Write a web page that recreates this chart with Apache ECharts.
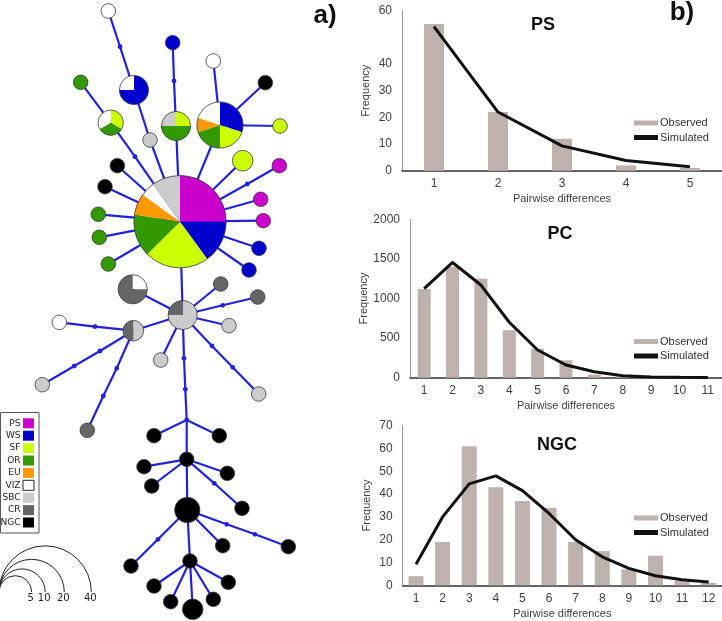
<!DOCTYPE html>
<html>
<head>
<meta charset="utf-8">
<title>Haplotype network and mismatch distributions</title>
<script src="https://cdn.jsdelivr.net/npm/echarts@6/dist/echarts.min.js"></script>
<style>
    html, body { margin: 0; padding: 0; background: #fff; }
    #chart { width: 722px; height: 621px; }
</style>
</head>
<body>
<div id="chart"></div>
<script>
// populations, in legend order (pies are drawn clockwise from 12 o'clock in this order)
var pops = ['PS', 'WS', 'SF', 'OR', 'EU', 'VIZ', 'SBC', 'CR', 'NGC'];
var popColors = ['#cc00cc', '#0000cc', '#ccff00', '#339900', '#ff9900', '#ffffff', '#cccccc', '#666666', '#000000'];

// haplotype network, vertex layout in network space (x right, y down)
var netLayout = [
    [180, 221.7], [108.3, 11], [120, 46.7], [134, 90], [150, 140],
    [172.7, 42.7], [174, 81], [176, 126], [80.7, 82.3], [110.7, 122.7],
    [135, 156.7], [213.3, 61], [220, 125], [265.3, 82.7], [280, 126],
    [117.3, 165.7], [105, 186.7], [98.3, 214.3], [99.3, 237.3], [108.3, 264],
    [242.7, 160.7], [279.3, 165.7], [247.3, 184], [260.7, 199.3], [263.3, 220.7],
    [259, 248.3], [249, 270], [182.7, 315], [132.7, 289.3], [220.7, 284],
    [257.7, 297], [222.7, 305.3], [229, 325.7], [160.7, 360], [212, 346],
    [232.7, 367.3], [258.7, 394], [133.3, 330.7], [95, 326.7], [59.3, 322.3],
    [100, 351], [74.3, 366], [42.3, 384.7], [116.7, 368.3], [103.3, 396],
    [87.3, 430.3], [184, 358.3], [185.3, 389.3], [186.7, 420], [154, 435.7],
    [219.3, 435.7], [186.7, 459.3], [144, 466.7], [151.7, 486], [227.3, 473.3],
    [214.3, 483.3], [242, 508.3], [187.3, 510], [158, 539.3], [131, 566],
    [222.7, 545.7], [226.7, 524.3], [255, 534.3], [288.3, 546.7], [190, 561],
    [154, 586], [170.7, 601.7], [192.7, 609.3], [213.3, 599.3], [228.3, 582.3]
];

// haplotype composition per vertex (null = mutation step / median vector)
var netComp = [
    {PS: 10, WS: 6, SF: 9, OR: 6, EU: 3, VIZ: 2, SBC: 4}, {VIZ: 1}, null, {WS: 3, VIZ: 1}, {SBC: 1},
    {WS: 1}, null, {SF: 1, OR: 2, SBC: 1}, {OR: 1}, {SF: 1, OR: 1, VIZ: 1},
    null, {VIZ: 1}, {WS: 3, SF: 2, OR: 2, EU: 1, VIZ: 2}, {NGC: 1}, {SF: 1},
    {NGC: 1}, {NGC: 1}, {OR: 1}, {OR: 1}, {OR: 1},
    {SF: 2}, {PS: 1}, null, {PS: 1}, {PS: 1},
    {WS: 1}, {WS: 1}, {SBC: 3, CR: 1}, {VIZ: 1, CR: 3}, {CR: 1},
    {CR: 1}, null, {SBC: 1}, {SBC: 1}, null,
    null, {SBC: 1}, {SBC: 1, CR: 1}, null, {VIZ: 1},
    null, null, {SBC: 1}, null, null,
    {CR: 1}, null, null, null, {NGC: 1},
    {NGC: 1}, {NGC: 1}, {NGC: 1}, {NGC: 1}, {NGC: 1},
    null, {NGC: 1}, {NGC: 3}, null, {NGC: 1},
    {NGC: 1}, null, null, {NGC: 1}, {NGC: 1},
    {NGC: 1}, {NGC: 1}, {NGC: 2}, {NGC: 1}, {NGC: 1}
];

var netLinks = [
    [1, 2], [2, 3], [3, 4], [4, 0], [5, 6], [6, 7], [7, 0], [8, 9], [9, 10], [10, 0],
    [11, 12], [12, 0], [12, 13], [12, 14], [15, 0], [16, 0], [17, 0], [18, 0], [19, 0],
    [20, 0], [21, 22], [22, 0], [23, 0], [24, 0], [25, 0], [26, 0],
    [0, 27], [28, 27], [29, 27], [30, 31], [31, 27], [32, 27], [33, 27], [27, 34], [34, 35], [35, 36],
    [27, 37], [37, 38], [38, 39], [37, 40], [40, 41], [41, 42], [37, 43], [43, 44], [44, 45],
    [27, 46], [46, 47], [47, 48], [48, 49], [48, 50], [48, 51],
    [51, 52], [51, 53], [51, 54], [51, 55], [55, 56], [51, 57],
    [57, 58], [58, 59], [57, 60], [57, 61], [61, 62], [62, 63], [57, 64],
    [64, 65], [64, 66], [64, 67], [64, 68], [64, 69]
];

var sizeLegend = [5, 10, 20, 40];

// mismatch distributions
var psCats = ['1', '2', '3', '4', '5'];
var psObserved = [55, 22, 12, 2, 1];
var psSimulated = [54, 22, 9.3, 3.8, 1.5];

var pcCats = ['1', '2', '3', '4', '5', '6', '7', '8', '9', '10', '11'];
var pcObserved = [1120, 1400, 1250, 600, 365, 220, 40, 10, 5, 0, 0];
var pcSimulated = [1125, 1455, 1170, 700, 350, 160, 75, 25, 10, 5, 2];

var ngcCats = ['1', '2', '3', '4', '5', '6', '7', '8', '9', '10', '11', '12'];
var ngcObserved = [4, 19, 61, 43, 37, 34, 19, 15, 7, 13, 2, 1];
var ngcSimulated = [9.2, 30, 44.5, 48, 41.5, 31.5, 20, 12.5, 7.4, 4.2, 2.4, 1.4];

var edgeColor = '#2222d8';
var barColor = '#bdb2ad';
var FONT = '"Liberation Sans", Arial, sans-serif';

function hapRadius(n) {
    return 7.3 * Math.sqrt(n);
}

var chart = echarts.init(document.getElementById('chart'));

// one mismatch panel: grid + axes + series
var panels = [
    {cats: psCats, obs: psObserved, sim: psSimulated, max: 60, step: 10, grid: {left: 402, top: 10.7, width: 320, height: 160}, barW: 20, yGap: 31, hide: 50, legendTop: 117.5},
    {cats: pcCats, obs: pcObserved, sim: pcSimulated, max: 2000, step: 500, grid: {left: 410, top: 219.3, width: 312, height: 158.4}, barW: 13, yGap: 39, legendTop: 336},
    {cats: ngcCats, obs: ngcObserved, sim: ngcSimulated, max: 70, step: 10, grid: {left: 402.7, top: 425.7, width: 319.3, height: 159.6}, barW: 15, yGap: 30, legendTop: 512.5}
];

var grids = [], xAxes = [], yAxes = [], series = [], legends = [];
panels.forEach(function (p, i) {
    grids.push(p.grid);
    xAxes.push({
        type: 'category', gridIndex: i, data: p.cats,
        name: 'Pairwise differences', nameLocation: 'middle', nameGap: 23,
        nameTextStyle: {fontFamily: FONT, fontSize: 11, color: '#404040'},
        axisLine: {lineStyle: {color: '#333', width: 1.5}},
        axisTick: {show: false},
        axisLabel: {fontFamily: FONT, fontSize: 12, color: '#404040', margin: 7}
    });
    yAxes.push({
        type: 'value', gridIndex: i, min: 0, max: p.max, interval: p.step,
        name: 'Frequency', nameLocation: 'middle', nameGap: p.yGap, nameRotate: 90,
        nameTextStyle: {fontFamily: FONT, fontSize: 11, color: '#404040'},
        axisLine: {show: true, lineStyle: {color: '#999', width: 1}},
        axisTick: {show: false},
        splitLine: {show: false},
        axisLabel: {
            fontFamily: FONT, fontSize: 12, color: '#404040', margin: 10,
            formatter: function (v) { return v === p.hide ? '' : v; }
        }
    });
    series.push({
        name: 'Observed', type: 'bar', xAxisIndex: i, yAxisIndex: i,
        data: p.obs, barWidth: p.barW, itemStyle: {color: barColor}
    });
    series.push({
        name: 'Simulated', type: 'line', xAxisIndex: i, yAxisIndex: i,
        data: p.sim, symbol: 'none', lineStyle: {color: '#111', width: 3}, itemStyle: {color: '#111'}
    });
    legends.push({
        data: [{name: 'Observed', icon: 'rect'}, {name: 'Simulated', icon: 'rect'}],
        orient: 'vertical', left: 634, top: p.legendTop, padding: 0,
        itemWidth: 24, itemHeight: 5, itemGap: 3.5, selectedMode: false,
        textStyle: {fontFamily: FONT, fontSize: 11, color: '#333', padding: [0, 0, 0, -3]}
    });
});

// hidden grid for the network, one unit = one pixel
grids.push({left: 0, top: 0, width: 340, height: 621});
xAxes.push({type: 'value', gridIndex: 3, min: 0, max: 340, show: false});
yAxes.push({type: 'value', gridIndex: 3, min: 0, max: 621, inverse: true, show: false});

var linkData = netLinks.map(function (l) {
    var a = netLayout[l[0]], b = netLayout[l[1]];
    return [a[0], a[1], b[0], b[1]];
});
var nodeData = netLayout.map(function (p, i) {
    return [p[0], p[1], i];
});

series.push({
    type: 'custom', name: 'links', xAxisIndex: 3, yAxisIndex: 3, silent: true, z: 1,
    data: linkData,
    renderItem: function (params, api) {
        var a = api.coord([api.value(0), api.value(1)]);
        var b = api.coord([api.value(2), api.value(3)]);
        return {
            type: 'line',
            shape: {x1: a[0], y1: a[1], x2: b[0], y2: b[1]},
            style: {stroke: edgeColor, lineWidth: 2.2}
        };
    }
});

series.push({
    type: 'custom', name: 'haplotypes', xAxisIndex: 3, yAxisIndex: 3, silent: true, z: 2,
    data: nodeData,
    renderItem: function (params, api) {
        var c = api.coord([api.value(0), api.value(1)]);
        var comp = netComp[api.value(2)];
        if (!comp) {
            return {type: 'circle', shape: {cx: c[0], cy: c[1], r: 2.4}, style: {fill: edgeColor}};
        }
        var counts = pops.map(function (k) { return comp[k] || 0; });
        var total = counts.reduce(function (s, v) { return s + v; }, 0);
        var r = hapRadius(total);
        var children = [];
        var ang = -Math.PI / 2;
        counts.forEach(function (v, k) {
            if (!v) return;
            var end = ang + v / total * Math.PI * 2;
            children.push({
                type: 'sector',
                shape: {cx: c[0], cy: c[1], r0: 0, r: r, startAngle: ang, endAngle: end, clockwise: true},
                style: {fill: popColors[k]}
            });
            ang = end;
        });
        children.push({
            type: 'circle', shape: {cx: c[0], cy: c[1], r: r},
            style: {fill: 'none', stroke: '#3a3a3a', lineWidth: 0.8}
        });
        return {type: 'group', children: children};
    }
});

// graphic: panel titles, population key, size key
var graphics = [];
function addText(txt, x, y, size, bold, align) {
    graphics.push({
        type: 'text', x: x, y: y, silent: true,
        style: {
            text: txt, fontFamily: FONT, fontSize: size, fontWeight: bold ? 'bold' : 'normal',
            fill: '#111', align: align || 'center', verticalAlign: 'middle'
        }
    });
}
addText('a)', 325, 16, 26, true);
addText('b)', 682, 13, 26, true);
addText('PS', 543, 25, 18, true);
addText('PC', 560, 234, 18, true);
addText('NGC', 557, 445, 18, true);

graphics.push({
    type: 'rect', shape: {x: 0.5, y: 412.5, width: 38.5, height: 120.5}, silent: true,
    style: {fill: '#fff', stroke: '#555', lineWidth: 1}
});
pops.forEach(function (p, i) {
    var cy = 423.3 + i * 12.4;
    graphics.push({
        type: 'text', x: 20.5, y: cy, silent: true,
        style: {text: p, fontFamily: '"DejaVu Sans", sans-serif', fontSize: 9, fill: '#222', align: 'right', verticalAlign: 'middle'}
    });
    graphics.push({
        type: 'rect', shape: {x: 23, y: cy - 5, width: 11, height: 10}, silent: true,
        style: {fill: popColors[i], stroke: popColors[i] === '#ffffff' ? '#222' : null, lineWidth: 1}
    });
});

sizeLegend.forEach(function (n) {
    var r = hapRadius(n);
    graphics.push({
        type: 'arc', silent: true,
        shape: {cx: r - 1, cy: 592, r: r, startAngle: Math.PI, endAngle: Math.PI * 2, clockwise: true},
        style: {stroke: '#222', lineWidth: 1, fill: 'none'}
    });
    graphics.push({
        type: 'text', x: 2 * r - 2, y: 598, silent: true,
        style: {text: String(n), fontFamily: '"DejaVu Sans", sans-serif', fontSize: 10, fill: '#222', align: 'center', verticalAlign: 'middle'}
    });
});

var option = {
    backgroundColor: '#fff',
    animation: false,
    grid: grids,
    xAxis: xAxes,
    yAxis: yAxes,
    legend: legends,
    series: series,
    graphic: graphics
};

option && chart.setOption(option);
</script>
</body>
</html>
